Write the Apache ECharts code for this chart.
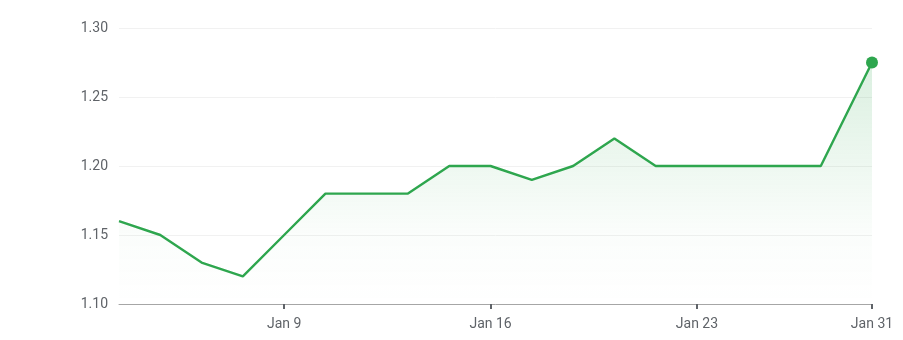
<!DOCTYPE html>
<html>
<head>
<meta charset="utf-8">
<script src="https://cdn.jsdelivr.net/npm/echarts@6/dist/echarts.min.js"></script>
<style>html,body{margin:0;padding:0;background:#fff}#c{width:903px;height:340px}</style>
</head>
<body>
<div id="c"></div>
<script>
// trading-day index of each observation (last one is intraday Jan 31)
const dayIndex = [0,1,2,3,4,5,6,7,8,9,10,11,12,13,14,15,16,17,18.24];
const values   = [1.16,1.15,1.13,1.12,1.15,1.18,1.18,1.18,1.20,1.20,1.19,1.20,1.22,1.20,1.20,1.20,1.20,1.20,1.275];
const tickPositions = [4, 9, 14, 18.24];
const tickLabels = ['Jan 9', 'Jan 16', 'Jan 23', 'Jan 31'];
const yTicks = [1.10, 1.15, 1.20, 1.25, 1.30];

const green = '#2ea64e';
const pts = dayIndex.map((x, i) => [x, values[i]]);
const last = pts[pts.length - 1];

const chart = echarts.init(document.getElementById('c'));
chart.setOption({
  animation: false,
  grid: { left: 119, right: 31, top: 28, bottom: 36, containLabel: false },
  xAxis: {
    type: 'value',
    min: dayIndex[0],
    max: dayIndex[dayIndex.length - 1],
    axisLine: { show: true, lineStyle: { color: '#a6a6a6', width: 1 } },
    axisTick: { show: true, customValues: tickPositions, length: 5, lineStyle: { color: '#5f6368', width: 2 } },
    axisLabel: {
      customValues: tickPositions,
      formatter: v => { const i = tickPositions.findIndex(t => Math.abs(t - v) < 1e-6); return i >= 0 ? tickLabels[i] : ''; },
      color: '#5f6368', fontFamily: 'Roboto', fontSize: 14, margin: 13,
      showMinLabel: true, showMaxLabel: true
    },
    splitLine: { show: false }
  },
  yAxis: {
    type: 'value',
    min: yTicks[0], max: yTicks[yTicks.length - 1], interval: 0.05,
    axisLine: { show: false }, axisTick: { show: false },
    axisLabel: { formatter: v => v.toFixed(2), color: '#5f6368', fontFamily: 'Roboto', fontSize: 14, margin: 11 },
    splitLine: { show: true, lineStyle: { color: '#f1f1f1', width: 1 } }
  },
  series: [
    {
      type: 'line', data: pts, showSymbol: false, symbol: 'none',
      lineStyle: { color: green, width: 2.4 },
      areaStyle: {
        color: new echarts.graphic.LinearGradient(0, 0, 0, 1, [
          { offset: 0, color: 'rgba(46,166,78,0.25)' },
          { offset: 0.7, color: 'rgba(46,166,78,0.03)' },
          { offset: 1, color: 'rgba(46,166,78,0)' }
        ])
      },
      z: 2
    },
    {
      type: 'scatter', data: [last], symbol: 'circle', symbolSize: 12,
      itemStyle: { color: green, opacity: 1 }, z: 3
    }
  ]
});
</script>
</body>
</html>
